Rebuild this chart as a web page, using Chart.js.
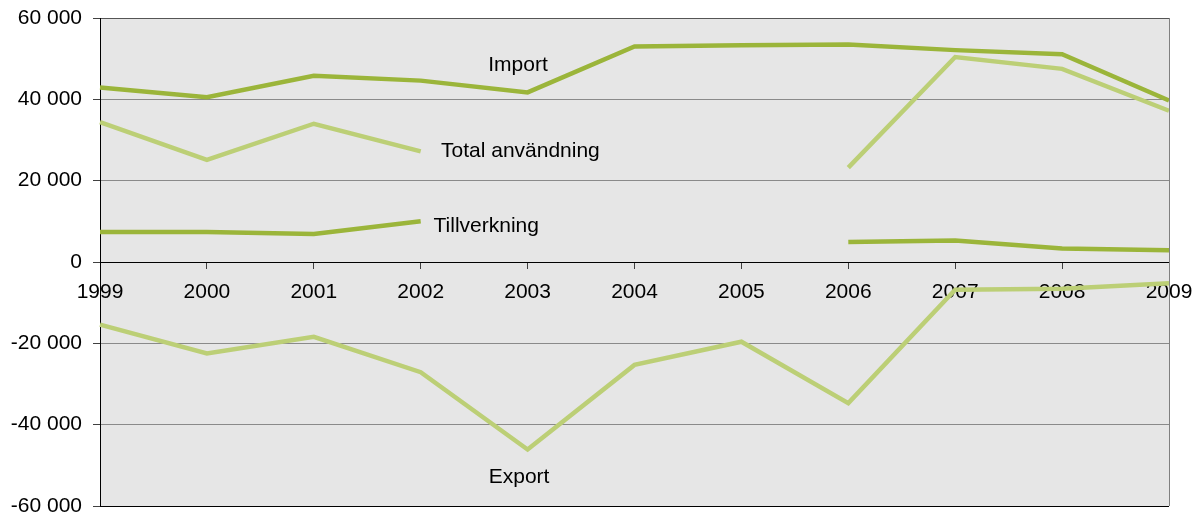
<!DOCTYPE html>
<html>
<head>
<meta charset="utf-8">
<script src="https://cdn.jsdelivr.net/npm/chart.js@4/dist/chart.umd.min.js"></script>
<style>
  html, body { margin: 0; padding: 0; background: #ffffff; }
  #wrap { width: 1200px; height: 519px; position: relative; }
</style>
</head>
<body>
<div id="wrap"><canvas id="c"></canvas></div>
<script>
const years = ['1999','2000','2001','2002','2003','2004','2005','2006','2007','2008','2009'];
const importValues = [42900, 40500, 45800, 44600, 41700, 53000, 53300, 53500, 52100, 51100, 39700];
const totalValues  = [34400, 25100, 34000, 27200, null, null, null, 23200, 50400, 47500, 37200];
const tillverkningValues = [7400, 7400, 6900, 10000, null, null, null, 4900, 5300, 3300, 2900];
const exportValues = [-15400, -22500, -18400, -27100, -46100, -25300, -19600, -34700, -6800, -6600, -5200];
const yTicks = [-60000, -40000, -20000, 0, 20000, 40000, 60000];

const darkGreen = '#9bb53a';
const lightGreen = '#bccf76';
const FONT = '"Liberation Sans", Arial, sans-serif';

const seriesLabels = [
  { text: 'Import', x: 3.91, y: 47000, align: 'center' },
  { text: 'Total användning', x: 3.19, y: 25900, align: 'left' },
  { text: 'Tillverkning', x: 3.12, y: 7500, align: 'left' },
  { text: 'Export', x: 3.92, y: -54400, align: 'center' }
];

function fmt(v) {
  const s = Math.abs(v).toString().replace(/\B(?=(\d{3})+(?!\d))/g, ' ');
  return (v < 0 ? '-' : '') + s;
}

const plotBg = {
  id: 'plotBg',
  beforeDraw(chart) {
    const { ctx, chartArea: a } = chart;
    ctx.save();
    ctx.fillStyle = '#e6e6e6';
    ctx.fillRect(a.left, a.top, a.right - a.left, a.bottom - a.top);
    ctx.restore();
  },
  afterDatasetsDraw(chart) {
    const { ctx, chartArea: a, scales } = chart;
    ctx.save();
    ctx.strokeStyle = '#808080';
    ctx.lineWidth = 1;
    ctx.beginPath();
    ctx.moveTo(Math.round(a.right) + 0.5, a.top);
    ctx.lineTo(Math.round(a.right) + 0.5, a.bottom);
    ctx.stroke();
    ctx.fillStyle = '#000';
    ctx.font = '21px ' + FONT;
    ctx.textBaseline = 'alphabetic';
    seriesLabels.forEach(l => {
      ctx.textAlign = l.align;
      ctx.fillText(l.text, scales.x.getPixelForValue(l.x), scales.y.getPixelForValue(l.y));
    });
    ctx.restore();
  }
};

const ds = (label, data, color) => ({
  label, data, borderColor: color, backgroundColor: color,
  borderWidth: 4.5, pointRadius: 0, pointHoverRadius: 0, tension: 0,
  spanGaps: false, fill: false
});

new Chart(document.getElementById('c'), {
  type: 'line',
  data: {
    labels: years,
    datasets: [
      ds('Total användning', totalValues, lightGreen),
      ds('Export', exportValues, lightGreen),
      ds('Import', importValues, darkGreen),
      ds('Tillverkning', tillverkningValues, darkGreen)
    ]
  },
  options: {
    responsive: true,
    maintainAspectRatio: false,
    animation: false,
    layout: { padding: { top: 18, bottom: 13, left: 0, right: 31 } },
    plugins: { legend: { display: false }, tooltip: { enabled: false } },
    scales: {
      x: {
        type: 'category',
        offset: false,
        position: { y: 0 },
        afterFit(scale) { scale.paddingLeft = 0; scale.paddingRight = 0; scale.paddingTop = 0; scale.paddingBottom = 0; scale.height = 0; },
        grid: { drawOnChartArea: false, drawTicks: true, tickLength: 6, color: '#404040', offset: false },
        border: { display: true, color: '#000000', width: 1 },
        ticks: { color: '#000', font: { family: FONT, size: 21 }, padding: 12, maxRotation: 0, autoSkip: false }
      },
      y: {
        min: -60000, max: 60000,
        afterBuildTicks(scale) { scale.ticks = yTicks.map(v => ({ value: v })); },
        afterFit(scale) { scale.width = 100; scale.paddingTop = 0; scale.paddingBottom = 0; },
        grid: {
          color: (c) => (c.tick && (c.tick.value === -60000 || c.tick.value === 0)) ? '#000000' : (c.tick && c.tick.value === 60000 ? '#555555' : '#8a8a8a'),
          tickLength: 7, tickColor: '#404040', lineWidth: 1
        },
        border: { display: true, color: '#000000', width: 1 },
        ticks: { color: '#000', font: { family: FONT, size: 21 }, padding: 11, callback: (v) => fmt(v) }
      }
    }
  },
  plugins: [plotBg]
});
</script>
</body>
</html>
